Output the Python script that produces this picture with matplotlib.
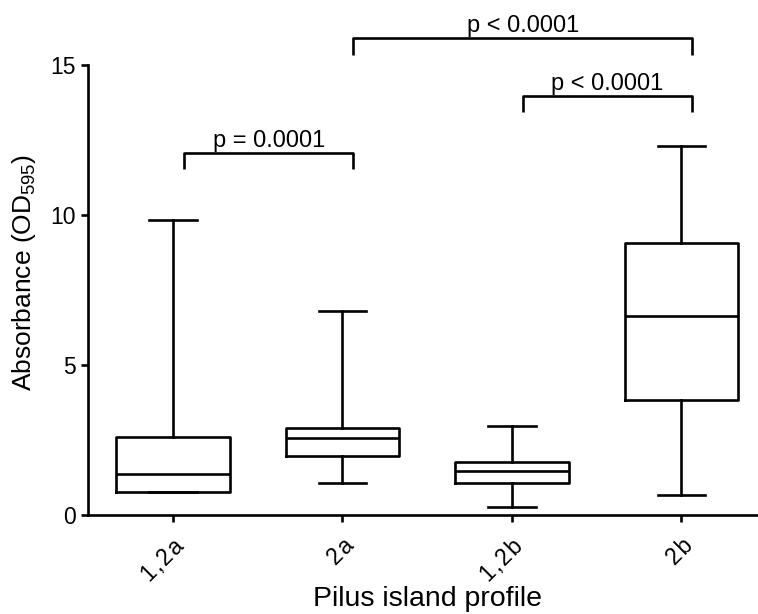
# Box plot of absorbance by pilus island profile
import matplotlib
matplotlib.use("Agg")
import matplotlib.pyplot as plt

plt.rcParams['font.family'] = ['Liberation Sans', 'DejaVu Sans']
plt.rcParams['mathtext.default'] = 'regular'

# Data (min, q1, median, q3, max)
profiles = ["1,2a", "2a", "1,2b", "2b"]
whisker_low = [0.78, 1.07, 0.27, 0.67]
q1 = [0.78, 1.97, 1.07, 3.83]
median = [1.38, 2.58, 1.47, 6.65]
q3 = [2.6, 2.9, 1.77, 9.07]
whisker_high = [9.83, 6.8, 2.97, 12.3]

# Significance brackets: (left group, right group, bar height, label)
brackets = [
    (0, 1, 12.07, "p = 0.0001"),
    (2, 3, 13.97, "p < 0.0001"),
    (1, 3, 15.9, "p < 0.0001"),
]

stats = []
for i in range(len(profiles)):
    stats.append({
        "whislo": whisker_low[i], "q1": q1[i], "med": median[i],
        "q3": q3[i], "whishi": whisker_high[i], "fliers": [],
    })

fig = plt.figure(figsize=(7.58, 6.14), dpi=100)
ax = fig.add_axes([0.1164, 0.1612, 0.8942, 0.7329])

lw = 1.9
line = dict(color='black', linewidth=lw)
ax.bxp(stats, positions=range(len(profiles)), widths=0.67, capwidths=0.28,
       showfliers=False, boxprops=line, medianprops=line,
       whiskerprops=line, capprops=line)

ax.set_xlim(-0.5, 3.5)
ax.set_ylim(0, 15)
ax.set_yticks([0, 5, 10, 15])
ax.set_xticks(range(len(profiles)))
# the original spaces the characters of the rotated labels a little
spaced = ["\u200a".join(p) for p in profiles]
ax.set_xticklabels(spaced, rotation=45, ha='right', rotation_mode='anchor',
                   fontsize=17)

for s in ['top', 'right']:
    ax.spines[s].set_visible(False)
for s in ['left', 'bottom']:
    ax.spines[s].set_linewidth(lw)
ax.tick_params(width=lw, length=5, labelsize=16.5, pad=4)
ax.tick_params(axis='x', pad=9)

ax.set_ylabel("Absorbance (OD$_{595}$)", fontsize=19)
ax.yaxis.set_label_coords(-0.074, 0.54)
ax.set_xlabel("Pilus island profile", fontsize=20.5, labelpad=0)

# brackets sit slightly to the right of the box centres in the original
shift = 0.065
leg = 0.55
for a, b, h, label in brackets:
    xa, xb = a + shift, b + shift
    ax.plot([xa, xa, xb, xb], [h - leg, h, h, h - leg], color='black',
            linewidth=lw, clip_on=False, solid_capstyle='butt')
    ax.text((xa + xb) / 2, h + 0.2, label, ha='center', va='baseline',
            fontsize=17, clip_on=False)

fig.savefig("out.png", dpi=100)
